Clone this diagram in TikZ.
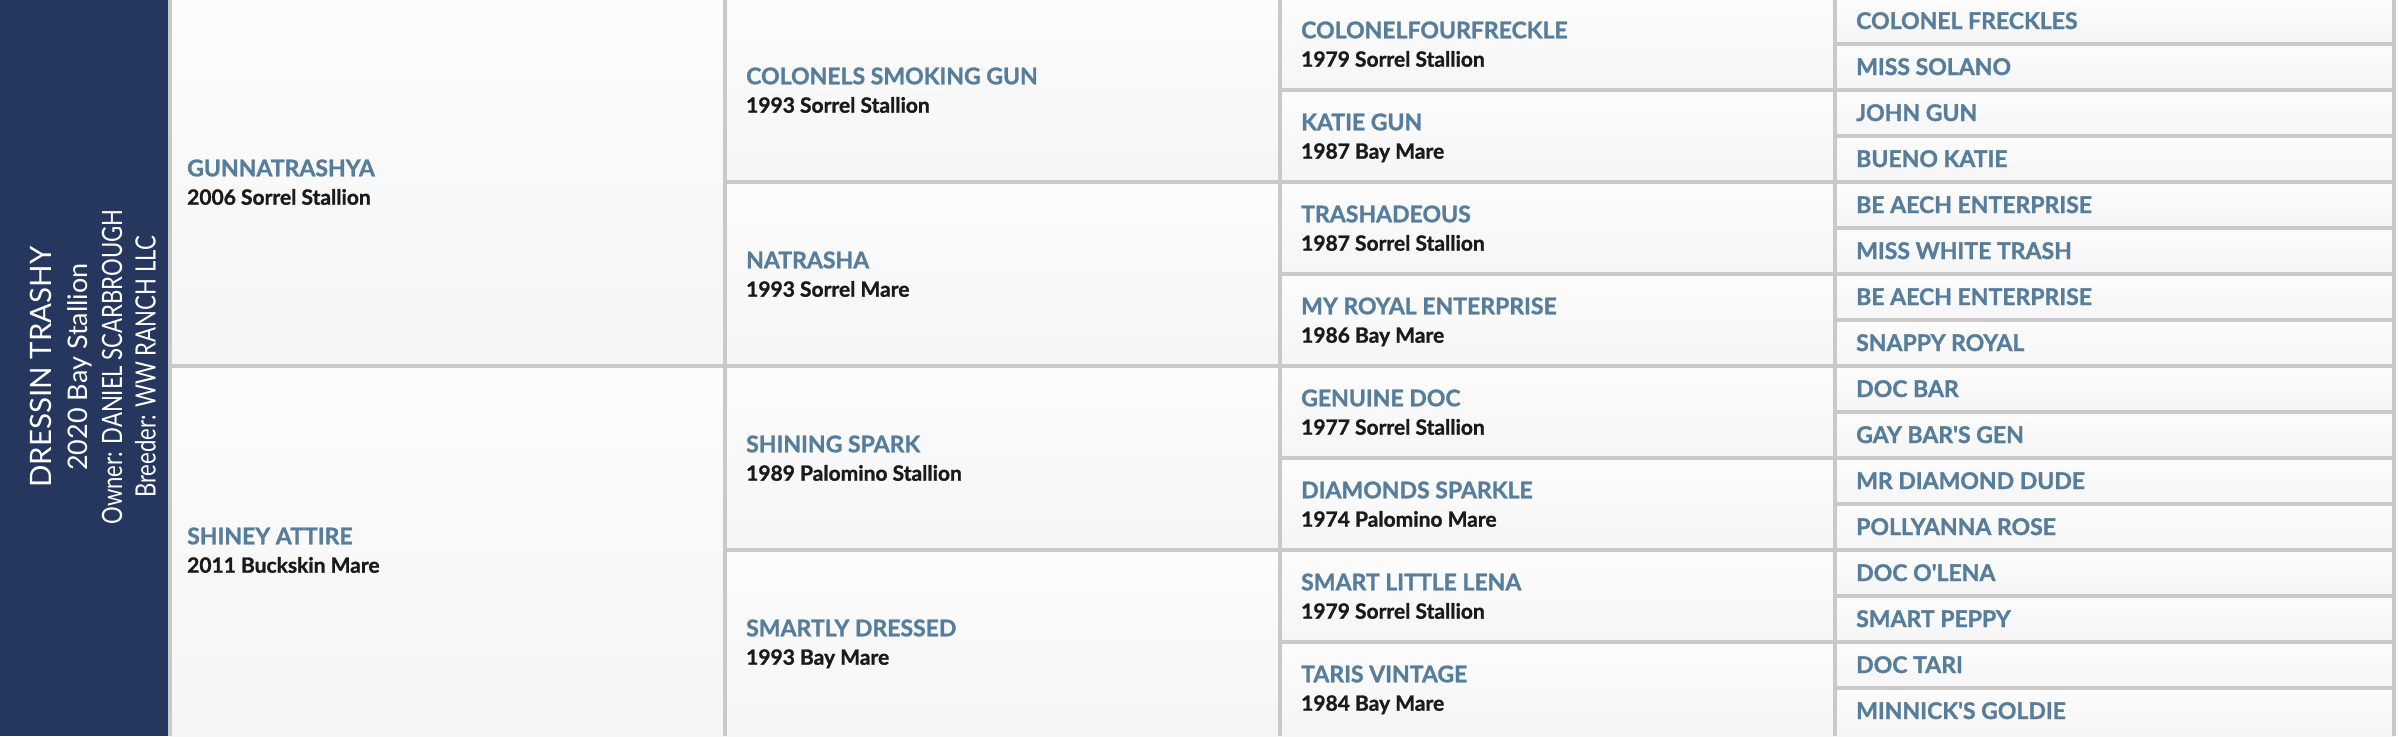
\documentclass[tikz,border=0pt]{standalone}
\usepackage{fontspec}
\newfontfamily\latofont[BoldFeatures={FakeBold=1.2}]{Lato}
\newfontfamily\latocond[FakeStretch=0.79]{Lato}
\definecolor{navy}{HTML}{25375F}
\definecolor{gridc}{HTML}{C9C9C9}
\definecolor{namec}{HTML}{567D9B}
\definecolor{detc}{HTML}{1A1A1A}
\definecolor{cellT}{HTML}{FCFCFC}
\definecolor{cellB}{HTML}{F5F5F5}
\tikzset{
  hname/.style={font=\latofont\bfseries\fontsize{23}{25}\selectfont, text=namec, anchor=base west, inner sep=0pt},
  hdet/.style={font=\latofont\bfseries\fontsize{21}{23}\selectfont, text=detc, anchor=base west, inner sep=0pt},
  ptitle/.style={font=\latofont\fontsize{29.5}{32}\selectfont, text=white, rotate=90, anchor=base, inner sep=0pt},
  psmall/.style={font=\latofont\fontsize{27}{29}\selectfont, text=white, rotate=90, anchor=base, inner sep=0pt},
  pline/.style={font=\latocond\fontsize{28}{30}\selectfont, text=white, rotate=90, anchor=base, inner sep=0pt},
  cellbg/.style={top color=cellT, bottom color=cellB, draw=none},
  gridline/.style={draw=gridc, line width=4pt},
}
\begin{document}
\begin{tikzpicture}[x=1pt,y=-1pt]
\useasboundingbox (0,0) rectangle (2398,736);
\fill[white] (0,0) rectangle (2398,736);
% left panel
\fill[navy] (0,0) rectangle (168,736);
% cell backgrounds
\foreach \xl/\xr/\n in {170/725/2, 725/1280/4, 1280/1835/8, 1835/2394/16} {
  \pgfmathsetmacro\h{736/\n}
  \foreach \i in {1,...,\n} {
    \shade[cellbg] (\xl,{(\i-1)*\h}) rectangle (\xr,{\i*\h});
  }
}
% horizontal grid lines
\foreach \xl/\xr/\n in {170/725/2, 725/1280/4, 1280/1835/8, 1835/2394/16} {
  \pgfmathsetmacro\h{736/\n}
  \pgfmathtruncatemacro\m{\n-1}
  \foreach \i in {1,...,\m} {
    \draw[gridline] (\xl,{\i*\h-2}) -- (\xr,{\i*\h-2});
  }
}
% vertical grid lines
\foreach \x in {170,725,1280,1835,2394} {
  \draw[gridline] (\x,0) -- (\x,736);
}
% panel text
\node[ptitle] (title) at (51.9,367) {DRESSIN TRASHY};
\node[psmall] (foal) at (87.5,367) {2020 Bay Stallion};
\node[pline] (owner) at (122,367) {Owner: DANIEL SCARBROUGH};
\node[pline] (breeder) at (155.5,367) {Breeder: WW RANCH LLC};
% generation 2
\foreach [count=\i from 0] \nm/\dt in {GUNNATRASHYA/2006 Sorrel Stallion, SHINEY ATTIRE/2011 Buckskin Mare} {
  \node[hname] (gbn\i) at (187,{\i*368+182-5.7}) {\nm};
  \node[hdet] (gbd\i) at (187,{\i*368+182+22.7}) {\dt};
}
% generation 3
\foreach [count=\i from 0] \nm/\dt in {COLONELS SMOKING GUN/1993 Sorrel Stallion, NATRASHA/1993 Sorrel Mare, SHINING SPARK/1989 Palomino Stallion, SMARTLY DRESSED/1993 Bay Mare} {
  \node[hname] (gcn\i) at (746,{\i*184+90-5.7}) {\nm};
  \node[hdet] (gcd\i) at (746,{\i*184+90+22.7}) {\dt};
}
% generation 4
\foreach [count=\i from 0] \nm/\dt in {COLONELFOURFRECKLE/1979 Sorrel Stallion, KATIE GUN/1987 Bay Mare, TRASHADEOUS/1987 Sorrel Stallion, MY ROYAL ENTERPRISE/1986 Bay Mare, GENUINE DOC/1977 Sorrel Stallion, DIAMONDS SPARKLE/1974 Palomino Mare, SMART LITTLE LENA/1979 Sorrel Stallion, TARIS VINTAGE/1984 Bay Mare} {
  \node[hname] (gdn\i) at (1301,{\i*92+44-5.7}) {\nm};
  \node[hdet] (gdd\i) at (1301,{\i*92+44+22.7}) {\dt};
}
% generation 5
\foreach [count=\i from 0] \nm in {COLONEL FRECKLES, MISS SOLANO, JOHN GUN, BUENO KATIE, BE AECH ENTERPRISE, MISS WHITE TRASH, BE AECH ENTERPRISE, SNAPPY ROYAL, DOC BAR, GAY BAR'S GEN, MR DIAMOND DUDE, POLLYANNA ROSE, DOC O'LENA, SMART PEPPY, DOC TARI, MINNICK'S GOLDIE} {
  \node[hname] (gen\i) at (1856,{\i*46+29}) {\nm};
}
\end{tikzpicture}
\end{document}
